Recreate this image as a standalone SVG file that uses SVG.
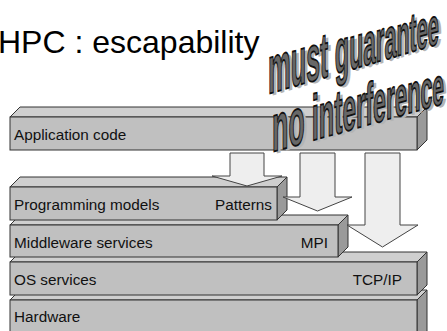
<svg xmlns="http://www.w3.org/2000/svg" width="447" height="331" viewBox="0 0 447 331">
<style>
.front{fill:#c0c0c0;stroke:#333;stroke-width:1}
.top{fill:#cfcfcf;stroke:#333;stroke-width:1}
.side{fill:#9a9a9a;stroke:#333;stroke-width:1}
.lbl{font-family:"Liberation Sans",Arial,sans-serif;font-size:15.3px;fill:#111}
.r{text-anchor:end}
.arrow{fill:#eeeeee;stroke:#444;stroke-width:1;stroke-linejoin:miter}
.title{font-family:"Liberation Sans",Arial,sans-serif;font-size:32px;fill:#000}
.wa{font-family:"Liberation Sans",Arial,sans-serif;font-weight:bold}
.wa-shadow{fill:#b4b4b4}
.wa-main{fill:#676767;stroke:#111;stroke-width:0.7}
</style>
<rect width="447" height="331" fill="#fff"/>
<text class="title" x="-2" y="53">HPC : escapability</text>

<g id="hardware">
<polygon class="top" points="10,300 20,290 427,290 417,300"/>
<polygon class="side" points="417,300 427,290 427,333 417,343"/>
<rect class="front" x="10" y="300" width="407" height="33"/>
<text class="lbl" x="14" y="322">Hardware</text>
</g>

<g id="os">
<polygon class="top" points="10,262 20,252 427,252 417,262"/>
<polygon class="side" points="417,262 427,252 427,285 417,295"/>
<rect class="front" x="10" y="262" width="407" height="33"/>
<text class="lbl" x="14" y="285">OS services</text>
<text class="lbl r" x="402" y="285">TCP/IP</text>
</g>

<g id="middleware">
<polygon class="top" points="10,225 20,215 348,215 338,225"/>
<polygon class="side" points="338,225 348,215 348,247 338,257"/>
<rect class="front" x="10" y="225" width="328" height="32"/>
<text class="lbl" x="14" y="248">Middleware services</text>
<text class="lbl r" x="328" y="248">MPI</text>
</g>

<g id="programming">
<polygon class="top" points="10,187 20,177 287,177 277,187"/>
<polygon class="side" points="277,187 287,177 287,210 277,220"/>
<rect class="front" x="10" y="187" width="267" height="33"/>
<text class="lbl" x="14" y="210">Programming models</text>
<text class="lbl r" x="272" y="210">Patterns</text>
</g>

<g id="application">
<polygon class="top" points="10,117 20,107 427,107 417,117"/>
<polygon class="side" points="417,117 427,107 427,140 417,150"/>
<rect class="front" x="10" y="117" width="407" height="33"/>
<text class="lbl" x="14" y="140">Application code</text>
</g>

<g id="connectors">
<polygon class="arrow" points="230,153 264,153 264,176 282,176 247,186 212,176 230,176"/>
<polygon class="arrow" points="300,153 335,153 335,197 352,197 317.5,211 283,197 300,197"/>
<polygon class="arrow" points="365,153 400,153 400,225 418,225 382.5,247 347,225 365,225"/>
</g>

<g id="must-guarantee">
<g transform="translate(271,96) skewY(-16.4) scale(1,2.7)">
<text class="wa wa-shadow" x="0" y="0" textLength="171" lengthAdjust="spacingAndGlyphs"><tspan font-size="25">m</tspan><tspan font-size="24.6">u</tspan><tspan font-size="24.2">s</tspan><tspan font-size="23.7">t</tspan><tspan font-size="23.3"> </tspan><tspan font-size="22.9">g</tspan><tspan font-size="22.5">u</tspan><tspan font-size="22">a</tspan><tspan font-size="21.6">r</tspan><tspan font-size="21.2">a</tspan><tspan font-size="20.8">n</tspan><tspan font-size="20.3">t</tspan><tspan font-size="19.9">e</tspan><tspan font-size="19.5">e</tspan></text>
</g>
<g transform="translate(268,94) skewY(-16.4) scale(1,2.7)">
<text class="wa wa-main" x="0" y="0" textLength="171" lengthAdjust="spacingAndGlyphs"><tspan font-size="25">m</tspan><tspan font-size="24.6">u</tspan><tspan font-size="24.2">s</tspan><tspan font-size="23.7">t</tspan><tspan font-size="23.3"> </tspan><tspan font-size="22.9">g</tspan><tspan font-size="22.5">u</tspan><tspan font-size="22">a</tspan><tspan font-size="21.6">r</tspan><tspan font-size="21.2">a</tspan><tspan font-size="20.8">n</tspan><tspan font-size="20.3">t</tspan><tspan font-size="19.9">e</tspan><tspan font-size="19.5">e</tspan></text>
</g>
</g>

<g id="no-interference">
<g transform="translate(275,154) skewY(-15.8) scale(1,2.7)">
<text class="wa wa-shadow" x="0" y="0" textLength="172" lengthAdjust="spacingAndGlyphs"><tspan font-size="25">n</tspan><tspan font-size="24.6">o</tspan><tspan font-size="24.2"> </tspan><tspan font-size="23.8">i</tspan><tspan font-size="23.4">n</tspan><tspan font-size="23">t</tspan><tspan font-size="22.6">e</tspan><tspan font-size="22.3">r</tspan><tspan font-size="21.9">f</tspan><tspan font-size="21.5">e</tspan><tspan font-size="21.1">r</tspan><tspan font-size="20.7">e</tspan><tspan font-size="20.3">n</tspan><tspan font-size="19.9">c</tspan><tspan font-size="19.5">e</tspan></text>
</g>
<g transform="translate(272,152) skewY(-15.8) scale(1,2.7)">
<text class="wa wa-main" x="0" y="0" textLength="172" lengthAdjust="spacingAndGlyphs"><tspan font-size="25">n</tspan><tspan font-size="24.6">o</tspan><tspan font-size="24.2"> </tspan><tspan font-size="23.8">i</tspan><tspan font-size="23.4">n</tspan><tspan font-size="23">t</tspan><tspan font-size="22.6">e</tspan><tspan font-size="22.3">r</tspan><tspan font-size="21.9">f</tspan><tspan font-size="21.5">e</tspan><tspan font-size="21.1">r</tspan><tspan font-size="20.7">e</tspan><tspan font-size="20.3">n</tspan><tspan font-size="19.9">c</tspan><tspan font-size="19.5">e</tspan></text>
</g>
</g>
</svg>
